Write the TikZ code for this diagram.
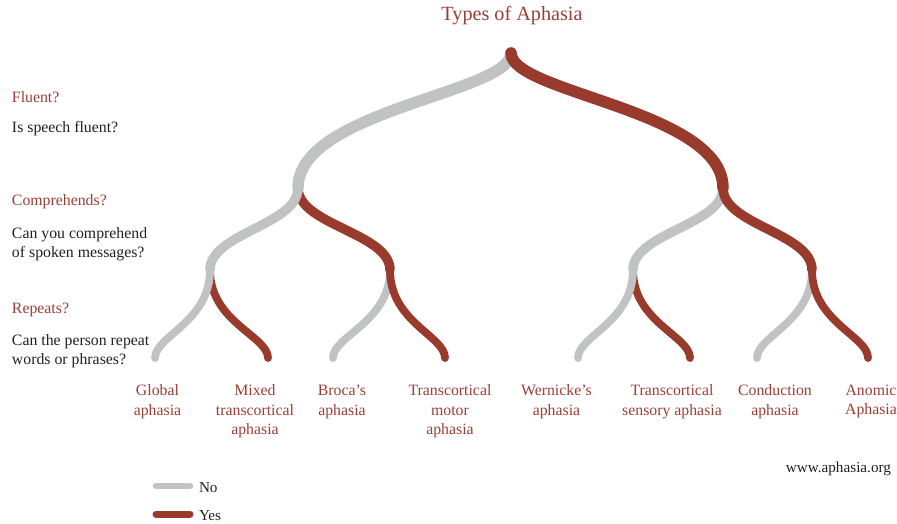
\documentclass[tikz,border=0pt]{standalone}
\usepackage{fontspec}
\setmainfont{Liberation Serif}
\definecolor{yesred}{HTML}{983B2D}
\definecolor{nogray}{HTML}{C1C2C4}
\definecolor{txtred}{HTML}{9A3F36}
\definecolor{txtdark}{HTML}{231F20}
\begin{document}
\begin{tikzpicture}[x=1pt,y=-1pt,
  no/.style={draw=nogray,line cap=round},
  yes/.style={draw=yesred,line cap=round},
  lvA/.style={line width=11.5pt},
  lvB/.style={line width=9.5pt},
  lvC/.style={line width=7.8pt},
  txt/.style={font=\fontsize{15.8}{19.5}\selectfont, inner sep=0pt, outer sep=0pt},
  qhead/.style={txt, text=txtred, anchor=base west},
  qbody/.style={txt, text=txtdark, anchor=north west, align=left},
  leaf/.style={txt, text=txtred, anchor=north, align=center},
]
\useasboundingbox (0,0) rectangle (897,523);

% branch points
\coordinate (root) at (511,53);
\coordinate (L1) at (298,188);
\coordinate (R1) at (723,188);
\coordinate (L2a) at (210,270);
\coordinate (L2b) at (390,270);
\coordinate (R2a) at (633,270);
\coordinate (R2b) at (812,270);
\coordinate (f1) at (155,358);
\coordinate (f2) at (268,358);
\coordinate (f3) at (333,358);
\coordinate (f4) at (445,358);
\coordinate (f5) at (578,358);
\coordinate (f6) at (690,358);
\coordinate (f7) at (757,358);
\coordinate (f8) at (868,358);

% 1. opposite leaves
\draw[yes,lvC] (L2a) .. controls +(0,52) and +(0,-22) .. (f2);
\draw[no,lvC]  (L2b) .. controls +(0,52) and +(0,-22) .. (f3);
\draw[yes,lvC] (R2a) .. controls +(0,52) and +(0,-22) .. (f6);
\draw[no,lvC]  (R2b) .. controls +(0,52) and +(0,-22) .. (f7);
% 2. opposite level-2 branches
\draw[yes,lvB] (L1) .. controls +(0,37) and +(0,-37) .. (L2b);
\draw[no,lvB]  (R1) .. controls +(0,37) and +(0,-37) .. (R2a);
% 3. their same-colour leaves
\draw[yes,lvC] (L2b) .. controls +(0,52) and +(0,-22) .. (f4);
\draw[no,lvC]  (R2a) .. controls +(0,52) and +(0,-22) .. (f5);
% 4. first level
\draw[no,lvA]  (root) .. controls +(0,40) and +(0,-78) .. (L1);
\draw[yes,lvA] (root) .. controls +(0,40) and +(0,-78) .. (R1);
% 5. same-colour level-2 branches
\draw[no,lvB]  (L1) .. controls +(0,37) and +(0,-37) .. (L2a);
\draw[yes,lvB] (R1) .. controls +(0,37) and +(0,-37) .. (R2b);
% 6. same-colour leaves
\draw[no,lvC]  (L2a) .. controls +(0,52) and +(0,-22) .. (f1);
\draw[yes,lvC] (R2b) .. controls +(0,52) and +(0,-22) .. (f8);

% title
\node[txt, text=txtred, font=\fontsize{20.2}{24}\selectfont, anchor=base] (title) at (512,20.7) {Types of Aphasia};

% questions
\node[qhead] (q1) at (12,102.7) {Fluent?};
\node[txt, text=txtdark, anchor=base west] (q1b) at (12,132.7) {Is speech fluent?};
\node[qhead] (q2) at (12,205) {Comprehends?};
\node[qbody] (q2b) at (12,227.4) {Can you comprehend\\of spoken messages?};
\node[qhead] (q3) at (12,313.3) {Repeats?};
\node[qbody] (q3b) at (12,334.1) {Can the person repeat\\words or phrases?};

% leaf labels
\node[leaf] (a1) at (157.5,385) {Global\\aphasia};
\node[leaf] (a2) at (255,385) {Mixed\\transcortical\\aphasia};
\node[leaf] (a3) at (342,385) {Broca’s\\aphasia};
\node[leaf] (a4) at (450,385) {Transcortical\\motor\\aphasia};
\node[leaf] (a5) at (556.5,385) {Wernicke’s\\aphasia};
\node[leaf] (a6) at (672,385) {Transcortical\\sensory aphasia};
\node[leaf] (a7) at (775,385) {Conduction\\aphasia};
\node[leaf] (a8) at (871,385) {Anomic\\Aphasia};

% source
\node[txt, text=txtdark, font=\fontsize{15.2}{18}\selectfont, anchor=base east] (src) at (891,472) {www.aphasia.org};

% legend
\coordinate (noA) at (156,486);
\coordinate (noB) at (190,486);
\coordinate (yesA) at (156,514);
\coordinate (yesB) at (190,514);
\draw[no, line width=6.5pt] (noA) -- (noB);
\draw[yes, line width=7pt] (yesA) -- (yesB);
\node[txt, text=txtdark, font=\fontsize{15.2}{18}\selectfont, anchor=base west] (noL) at (199,492) {No};
\node[txt, text=txtdark, font=\fontsize{15.2}{18}\selectfont, anchor=base west] (yesL) at (199,520) {Yes};
\end{tikzpicture}
\end{document}
